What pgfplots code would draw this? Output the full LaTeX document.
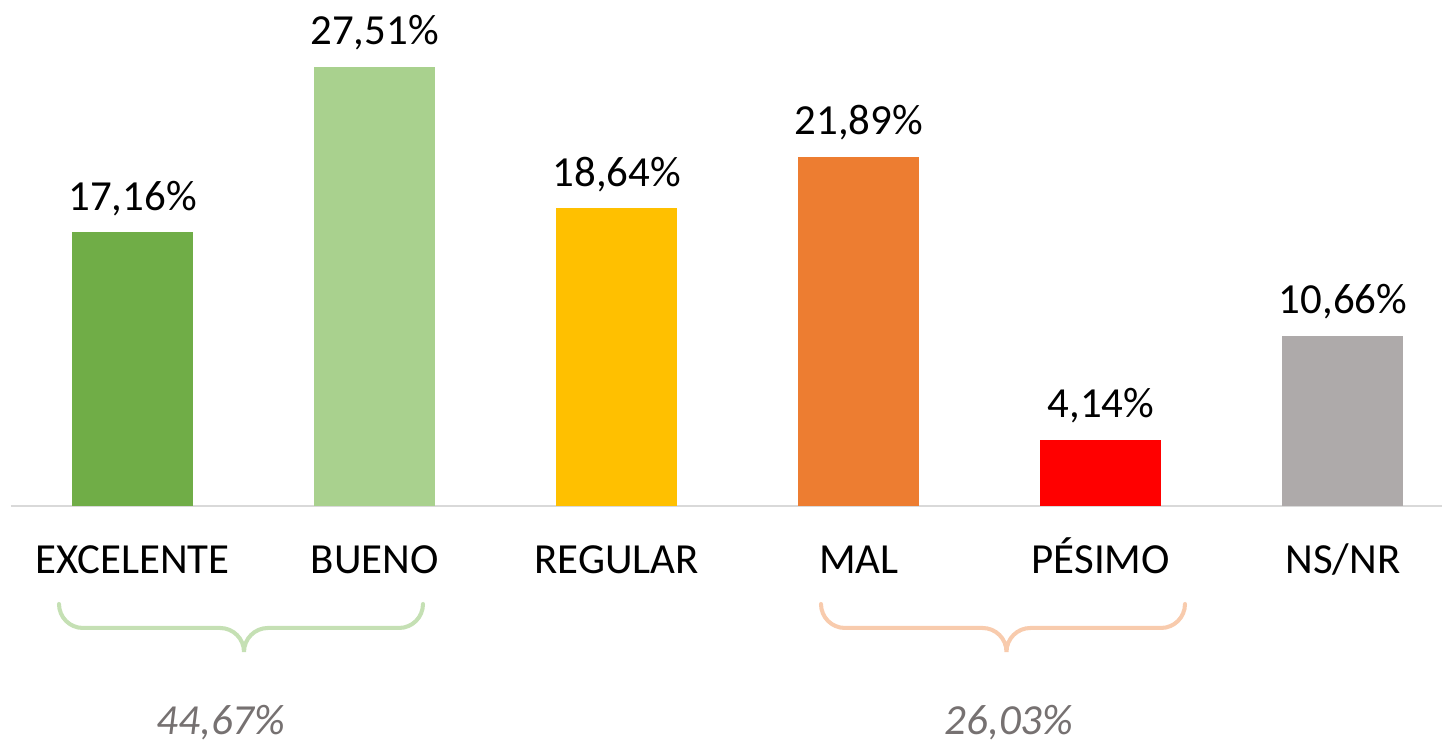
\documentclass[border=0pt]{standalone}
\usepackage{fontspec}
\setmainfont{Carlito}
\usepackage{pgfplots}
\pgfplotsset{compat=1.18}
\definecolor{exc}{RGB}{112,173,71}
\definecolor{bue}{RGB}{169,209,142}
\definecolor{reg}{RGB}{255,192,0}
\definecolor{mal}{RGB}{237,125,49}
\definecolor{pes}{RGB}{255,0,0}
\definecolor{nsnr}{RGB}{174,170,170}
\definecolor{axisgray}{RGB}{217,217,217}
\definecolor{bracegreen}{RGB}{197,224,180}
\definecolor{braceorange}{RGB}{248,203,173}
\definecolor{sumgray}{RGB}{118,113,113}

\begin{document}
\fontsize{12.2}{14}\selectfont
\begin{tikzpicture}
\useasboundingbox (0,0) rectangle (14.42,7.43);
\begin{axis}[
  at={(0.11cm,2.37cm)},anchor=south west,
  scale only axis,width=14.31cm,height=5.06cm,
  ybar,bar width=1.21cm,
  xmin=-0.502,xmax=5.409,ymin=0,ymax=31.70,
  axis x line=bottom,axis y line=none,
  axis line style={axisgray,line width=0.7pt,-},
  xtick={0,1,2,3,4,5},
  xticklabels={EXCELENTE,BUENO,REGULAR,MAL,PÉSIMO,NS/NR},
  major tick length=0pt,
  xticklabel style={anchor=base,yshift=-0.68cm,font=\fontsize{12.2}{14}\selectfont},
  /pgf/number format/assume math mode=true,
  nodes near coords={\pgfmathprintnumber[fixed,fixed zerofill,precision=2,use comma]{\pgfplotspointmeta}\%},
  nodes near coords style={anchor=base,yshift=0.22cm,black,font=\fontsize{12.2}{14}\selectfont},
]
  \addplot[fill=exc,draw=none,bar shift=0pt] coordinates {(0,17.16)};
  \addplot[fill=bue,draw=none,bar shift=0pt] coordinates {(1,27.51)};
  \addplot[fill=reg,draw=none,bar shift=0pt] coordinates {(2,18.64)};
  \addplot[fill=mal,draw=none,bar shift=0pt] coordinates {(3,21.89)};
  \addplot[fill=pes,draw=none,bar shift=0pt] coordinates {(4,4.14)};
  \addplot[fill=nsnr,draw=none,bar shift=0pt] coordinates {(5,10.66)};
\end{axis}
% group braces
\draw[bracegreen,line width=1.15pt,line cap=round]
  (0.59,1.39) to[out=-90,in=180] (0.83,1.15) -- (2.20,1.15)
  to[out=0,in=90] (2.44,0.91) to[out=90,in=180] (2.68,1.15) -- (3.99,1.15)
  to[out=0,in=-90] (4.23,1.39);
\draw[braceorange,line width=1.15pt,line cap=round]
  (8.21,1.39) to[out=-90,in=180] (8.45,1.15) -- (9.825,1.15)
  to[out=0,in=90] (10.065,0.91) to[out=90,in=180] (10.305,1.15) -- (11.61,1.15)
  to[out=0,in=-90] (11.85,1.39);
\node[anchor=base,sumgray,inner sep=0pt] at (2.21,0.08) {\itshape 44,67\%};
\node[anchor=base,sumgray,inner sep=0pt] at (10.09,0.08) {\itshape 26,03\%};
\end{tikzpicture}
\end{document}
